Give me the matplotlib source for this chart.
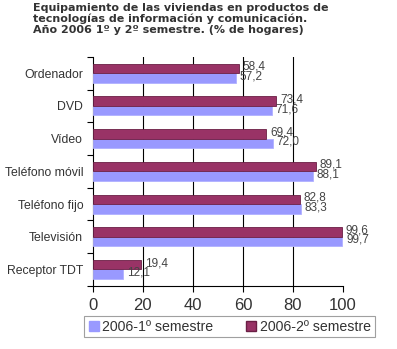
import numpy as np
import matplotlib.pyplot as plt
from matplotlib.lines import Line2D

plt.rcParams['font.family'] = ['Liberation Sans', 'DejaVu Sans']

# datos
categorias = ['Ordenador', 'DVD', 'Vídeo', 'Teléfono móvil',
              'Teléfono fijo', 'Televisión', 'Receptor TDT']
sem1 = [57.2, 71.6, 72.0, 88.1, 83.3, 99.7, 12.1]
sem2 = [58.4, 73.4, 69.4, 89.1, 82.8, 99.6, 19.4]
series = ['2006-1º semestre', '2006-2º semestre']
titulo = ('Equipamiento de las viviendas en productos de\n'
          'tecnologías de información y comunicación.\n'
          'Año 2006 1º y 2º semestre. (% de hogares)')

c1 = '#9999ff'
c2 = '#993366'

fig = plt.figure(figsize=(3.97, 3.49), dpi=100)
ax = fig.add_axes([0.234, 0.181, 0.63, 0.656])

y = np.arange(len(categorias))
h = 0.29
ax.barh(y + h / 2, sem1, height=h, color=c1, edgecolor='#b0b0ff', linewidth=0.6, zorder=3)
ax.barh(y - h / 2, sem2, height=h, color=c2, edgecolor='#6b1f45', linewidth=0.6, zorder=3)

# etiquetas de valores
for i in range(len(categorias)):
    ax.text(sem2[i] + 1.5, y[i] - h / 2 - 0.05, f'{sem2[i]:.1f}'.replace('.', ','),
            va='center', ha='left', fontsize=8.5, color='#444444', zorder=4)
    ax.text(sem1[i] + 1.5, y[i] + h / 2 - 0.05, f'{sem1[i]:.1f}'.replace('.', ','),
            va='center', ha='left', fontsize=8.5, color='#444444', zorder=4)

ax.set_xlim(0, 100)
ax.set_ylim(len(categorias) - 0.5, -0.5)
ax.set_xticks([0, 20, 40, 60, 80, 100])
ax.set_yticks(y)
ax.set_yticklabels(categorias, fontsize=8.8, color='#333333')
ax.set_yticks(np.arange(len(categorias) + 1) - 0.5, minor=True)
ax.tick_params(axis='y', which='major', length=0, pad=7)
ax.tick_params(axis='y', which='minor', length=4.5, width=0.8, direction='out')
ax.tick_params(axis='x', length=4, width=0.8, labelsize=12, labelcolor='#333333', pad=5)

ax.grid(axis='x', color='black', linewidth=0.8, zorder=0)
ax.get_xgridlines()[0].set_visible(False)
ax.get_xgridlines()[-1].set_visible(False)
for s in ['top', 'right']:
    ax.spines[s].set_visible(False)
ax.spines['left'].set_linewidth(0.8)
ax.spines['bottom'].set_linewidth(0.8)

fig.text(0.083, 0.992, titulo, ha='left', va='top', fontsize=8, fontweight='bold',
         color='#333333', linespacing=1.12, family='DejaVu Sans')

handles = [Line2D([], [], marker='s', linestyle='', markersize=7, color=c1),
           Line2D([], [], marker='s', linestyle='', markersize=7, color=c2,
                  markeredgecolor='#6b1f45')]
leg = fig.legend(handles, series, loc='center', bbox_to_anchor=(0.578, 0.064),
                 ncol=2, fontsize=10.2, frameon=True, fancybox=False,
                 edgecolor='#888888', handlelength=0.8, handletextpad=0.2,
                 columnspacing=2.3, borderpad=0.25, labelcolor='#333333')
leg.get_frame().set_linewidth(0.8)

fig.savefig('out.png', dpi=100)
